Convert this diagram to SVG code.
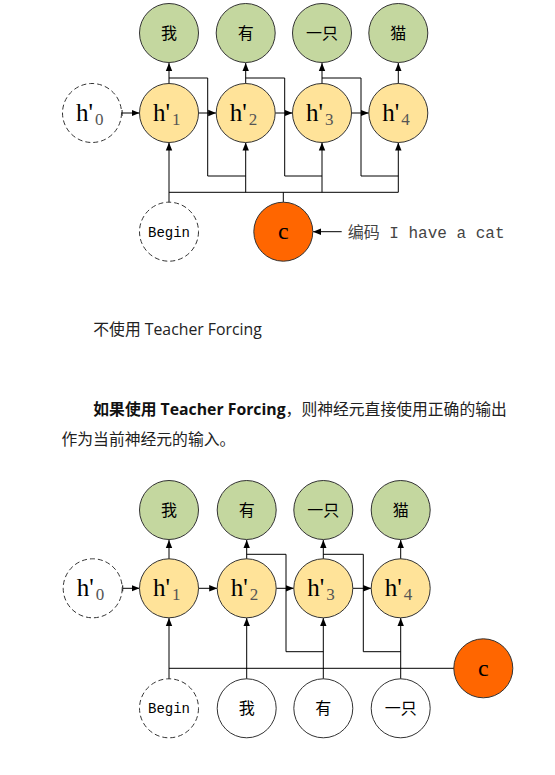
<svg xmlns="http://www.w3.org/2000/svg" width="555" height="775" viewBox="0 0 555 775">
<defs>
<marker id="ah" viewBox="0 0 10 10" refX="10" refY="5" markerWidth="8" markerHeight="8" markerUnits="userSpaceOnUse" orient="auto"><path d="M0,1 L10,5 L0,9 z" fill="#000"/></marker>
<style>
.g{fill:#c4d79f;stroke:#333;stroke-width:1}
.y{fill:#ffe399;stroke:#333;stroke-width:1}
.w{fill:#fff;stroke:#333;stroke-width:1}
.d{fill:#fff;stroke:#333;stroke-width:1;stroke-dasharray:5,3}
.o{fill:#ff6600;stroke:#333;stroke-width:1}
.ln{fill:none;stroke:#000;stroke-width:1}
.ar{fill:none;stroke:#000;stroke-width:1;marker-end:url(#ah)}
.cn{font-family:"Liberation Serif","Noto Sans CJK SC",serif;font-size:16px;text-anchor:middle;fill:#000}
.h{font-family:"Liberation Serif",serif;font-size:25px;fill:#000}
.sub{font-size:17px;fill:#555}
.bg{font-family:"Liberation Mono","Liberation Serif",monospace;font-size:14px;text-anchor:middle;fill:#000}
.cc{font-family:"Liberation Serif",serif;font-size:24px;text-anchor:middle;fill:#000}
.tx{font-family:"Open Sans","Noto Sans CJK SC",sans-serif;font-size:15.8px;fill:#222}
</style>
</defs>

<!-- ===== Diagram 1 ===== -->
<g id="d1-connectors">
<line class="ar" x1="169" y1="84" x2="169" y2="63"/>
<line class="ar" x1="245.7" y1="84" x2="245.7" y2="63"/>
<line class="ar" x1="322" y1="84" x2="322" y2="63"/>
<line class="ar" x1="398.3" y1="84" x2="398.3" y2="63"/>
<line class="ar" x1="122" y1="113" x2="139.5" y2="113"/>
<line class="ln" x1="122" y1="110" x2="122" y2="116"/>
<line class="ar" x1="198.5" y1="113" x2="216.2" y2="113"/>
<line class="ar" x1="275.2" y1="113" x2="292.5" y2="113"/>
<line class="ar" x1="351.5" y1="113" x2="368.8" y2="113"/>
<polyline class="ln" points="169,78 207.7,78 207.7,176 245.7,176"/>
<polyline class="ln" points="245.7,78 284.7,78 284.7,176 322,176"/>
<polyline class="ln" points="322,78 361,78 361,176 398.3,176"/>
<line class="ln" x1="169" y1="192.3" x2="398.3" y2="192.3"/>
<line class="ln" x1="283.3" y1="192.3" x2="283.3" y2="202.3"/>
<line class="ar" x1="169" y1="202" x2="169" y2="142.5"/>
<line class="ar" x1="245.7" y1="192.3" x2="245.7" y2="142.5"/>
<line class="ar" x1="322" y1="192.3" x2="322" y2="142.5"/>
<line class="ar" x1="398.3" y1="192.3" x2="398.3" y2="142.5"/>
<line class="ar" x1="341.7" y1="231.7" x2="313" y2="231.7"/>
</g>
<g id="d1-o1"><circle class="g" cx="169" cy="33" r="29.5"/><text class="cn" x="169" y="39">我</text></g>
<g id="d1-o2"><circle class="g" cx="245.7" cy="33" r="29.5"/><text class="cn" x="245.7" y="39">有</text></g>
<g id="d1-o3"><circle class="g" cx="322" cy="33" r="29.5"/><text class="cn" x="322" y="39">一只</text></g>
<g id="d1-o4"><circle class="g" cx="398.3" cy="33" r="29.5"/><text class="cn" x="398.3" y="39">猫</text></g>
<g id="d1-h0"><circle class="d" cx="92" cy="113" r="29.5"/><text class="h" x="76" y="121">h'<tspan class="sub" dx="2" dy="4">0</tspan></text></g>
<g id="d1-h1"><circle class="y" cx="169" cy="113" r="29.5"/><text class="h" x="153" y="121">h'<tspan class="sub" dx="2" dy="4">1</tspan></text></g>
<g id="d1-h2"><circle class="y" cx="245.7" cy="113" r="29.5"/><text class="h" x="229.7" y="121">h'<tspan class="sub" dx="2" dy="4">2</tspan></text></g>
<g id="d1-h3"><circle class="y" cx="322" cy="113" r="29.5"/><text class="h" x="306" y="121">h'<tspan class="sub" dx="2" dy="4">3</tspan></text></g>
<g id="d1-h4"><circle class="y" cx="398.3" cy="113" r="29.5"/><text class="h" x="382.3" y="121">h'<tspan class="sub" dx="2" dy="4">4</tspan></text></g>
<g id="d1-begin"><circle class="d" cx="169" cy="231.7" r="29.5"/><text class="bg" x="169" y="236.5">Begin</text></g>
<g id="d1-c"><circle class="o" cx="283.3" cy="231.7" r="29.5"/><text class="cc" x="283.3" y="239">c</text></g>
<g id="d1-label"><text x="347.7" y="237.5" style="font-family:'Liberation Mono','Noto Sans CJK SC',monospace;font-size:16px;fill:#444">编码 I have a cat</text></g>

<!-- ===== Text ===== -->
<g id="caption">
<text class="tx" x="93.3" y="335">不使用 Teacher Forcing</text>
<text class="tx" x="93.3" y="415"><tspan font-weight="bold" fill="#111">如果使用 Teacher Forcing</tspan>，则神经元直接使用正确的输出</text>
<text class="tx" x="61.5" y="445">作为当前神经元的输入。</text>
</g>

<!-- ===== Diagram 2 ===== -->
<g id="d2-connectors">
<line class="ar" x1="169" y1="559" x2="169" y2="540"/>
<line class="ar" x1="246.7" y1="559" x2="246.7" y2="540"/>
<line class="ar" x1="323.3" y1="559" x2="323.3" y2="540"/>
<line class="ar" x1="400.7" y1="559" x2="400.7" y2="540"/>
<line class="ar" x1="122.7" y1="588.3" x2="139.5" y2="588.3"/>
<line class="ln" x1="122.7" y1="585.3" x2="122.7" y2="591.3"/>
<line class="ar" x1="198.5" y1="588.3" x2="217.2" y2="588.3"/>
<line class="ar" x1="276.2" y1="588.3" x2="293.8" y2="588.3"/>
<line class="ar" x1="352.8" y1="588.3" x2="371.2" y2="588.3"/>
<polyline class="ln" points="246.7,554.3 286,554.3 286,651.7 323.3,651.7"/>
<polyline class="ln" points="323.3,554.3 363.3,554.3 363.3,651.7 400.7,651.7"/>
<line class="ln" x1="169" y1="668.3" x2="454" y2="668.3"/>
<line class="ar" x1="169" y1="679" x2="169" y2="618"/>
<line class="ar" x1="246.7" y1="679" x2="246.7" y2="618"/>
<line class="ar" x1="323.3" y1="679" x2="323.3" y2="618"/>
<line class="ar" x1="400.7" y1="679" x2="400.7" y2="618"/>
</g>
<g id="d2-o1"><circle class="g" cx="169" cy="510" r="29.5"/><text class="cn" x="169" y="516">我</text></g>
<g id="d2-o2"><circle class="g" cx="246.7" cy="510" r="29.5"/><text class="cn" x="246.7" y="516">有</text></g>
<g id="d2-o3"><circle class="g" cx="323.3" cy="510" r="29.5"/><text class="cn" x="323.3" y="516">一只</text></g>
<g id="d2-o4"><circle class="g" cx="400.7" cy="510" r="29.5"/><text class="cn" x="400.7" y="516">猫</text></g>
<g id="d2-h0"><circle class="d" cx="92.7" cy="588.3" r="29.5"/><text class="h" x="76.7" y="596.3">h'<tspan class="sub" dx="2" dy="4">0</tspan></text></g>
<g id="d2-h1"><circle class="y" cx="169" cy="588.3" r="29.5"/><text class="h" x="153" y="596.3">h'<tspan class="sub" dx="2" dy="4">1</tspan></text></g>
<g id="d2-h2"><circle class="y" cx="246.7" cy="588.3" r="29.5"/><text class="h" x="230.7" y="596.3">h'<tspan class="sub" dx="2" dy="4">2</tspan></text></g>
<g id="d2-h3"><circle class="y" cx="323.3" cy="588.3" r="29.5"/><text class="h" x="307.3" y="596.3">h'<tspan class="sub" dx="2" dy="4">3</tspan></text></g>
<g id="d2-h4"><circle class="y" cx="400.7" cy="588.3" r="29.5"/><text class="h" x="384.7" y="596.3">h'<tspan class="sub" dx="2" dy="4">4</tspan></text></g>
<g id="d2-begin"><circle class="d" cx="169" cy="708.3" r="29.5"/><text class="bg" x="169" y="713">Begin</text></g>
<g id="d2-i2"><circle class="w" cx="246.7" cy="708.3" r="29.5"/><text class="cn" x="246.7" y="714">我</text></g>
<g id="d2-i3"><circle class="w" cx="323.3" cy="708.3" r="29.5"/><text class="cn" x="323.3" y="714">有</text></g>
<g id="d2-i4"><circle class="w" cx="400.7" cy="708.3" r="29.5"/><text class="cn" x="400.7" y="714">一只</text></g>
<g id="d2-c"><circle class="o" cx="483.3" cy="668.3" r="29.5"/><text class="cc" x="483.3" y="675.5">c</text></g>
</svg>
